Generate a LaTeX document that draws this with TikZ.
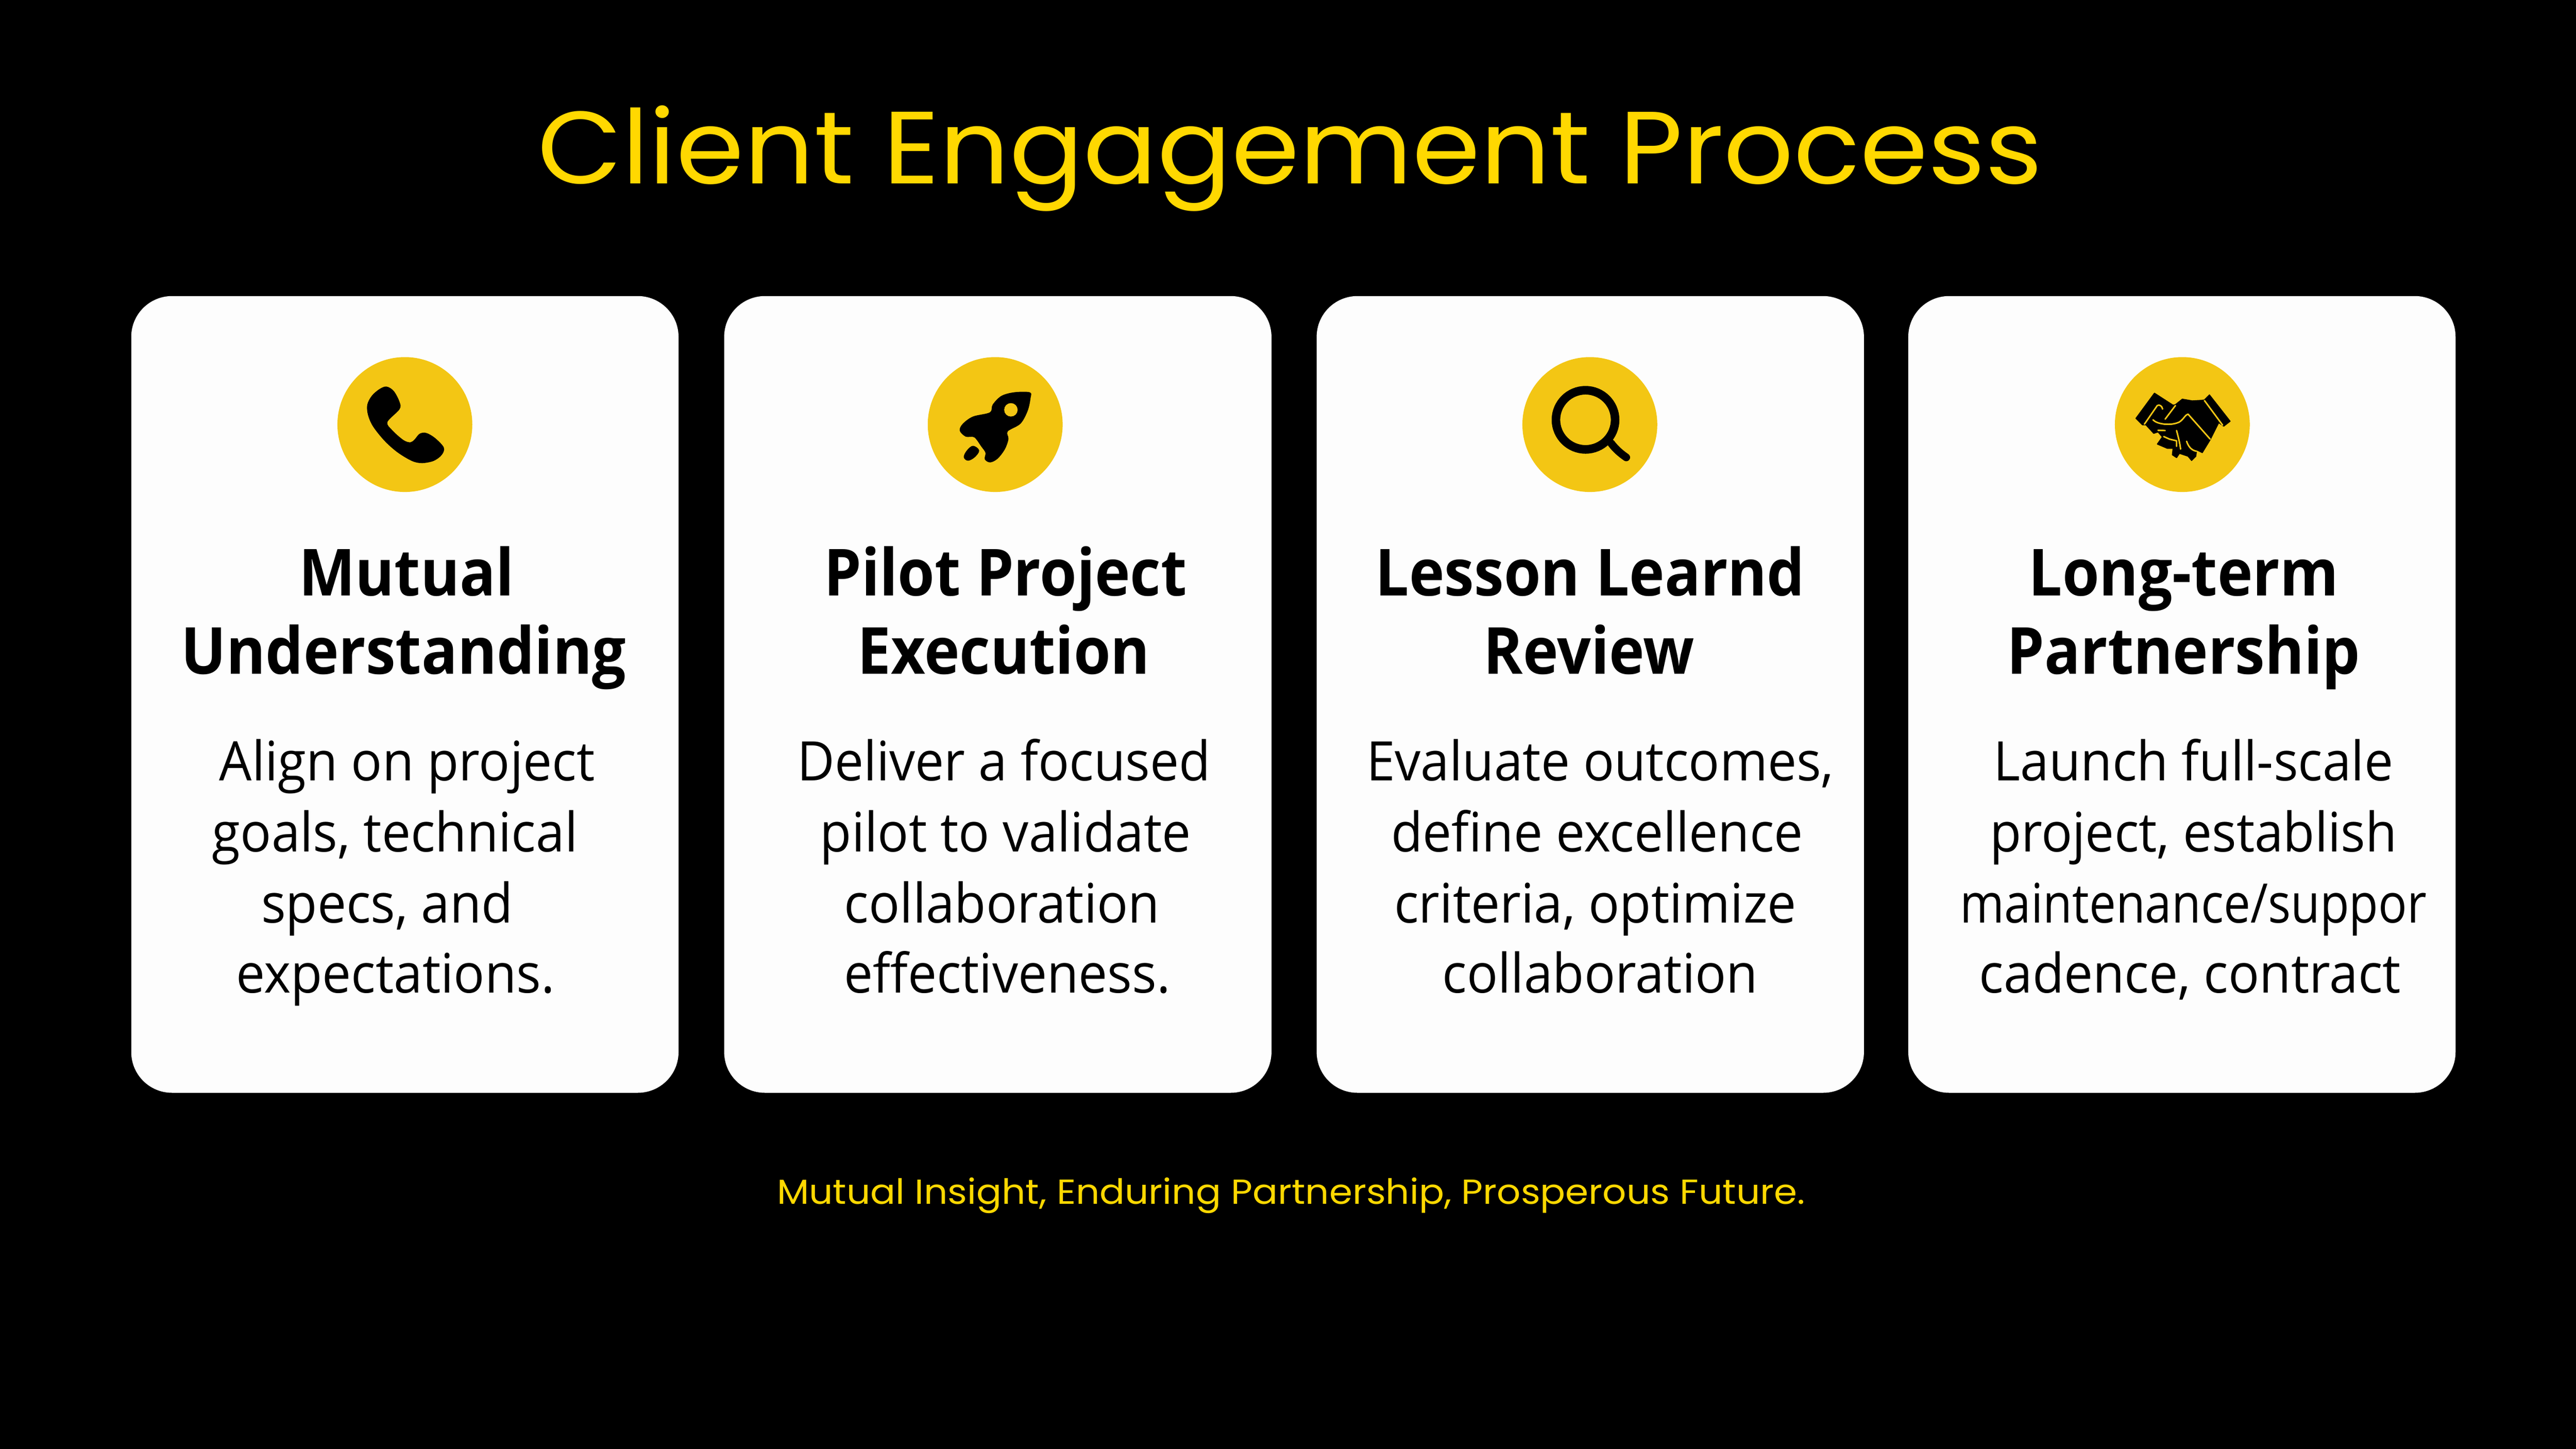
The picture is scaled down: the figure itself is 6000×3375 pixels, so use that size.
\documentclass[tikz,border=0pt]{standalone}
\usepackage{fontspec}
\setmainfont{Open Sans}
\newfontfamily\titlef[FakeStretch=1.067]{Poppins}
\newfontfamily\tagf[FakeStretch=1.075]{Poppins}
\newfontfamily\headf[FakeStretch=0.92]{Open Sans}
\newfontfamily\bodyf[FakeStretch=0.945]{Open Sans}
\newfontfamily\narrowf[FakeStretch=0.875]{Open Sans}
\definecolor{bgc}{HTML}{000000}
\definecolor{goldt}{HTML}{FFD800}
\definecolor{goldc}{HTML}{F3C614}
\definecolor{cardc}{HTML}{FDFDFD}
\tikzset{
  card/.style={draw=none,fill=cardc,rounded corners=0.95cm,minimum width=12.74cm,minimum height=18.55cm,inner sep=0,anchor=north west},
  badge/.style={draw=none,fill=goldc,circle,minimum size=3.14cm,inner sep=0},
  head/.style={anchor=base,inner sep=0,text=black,font=\headf\bfseries\fontsize{43}{50}\selectfont},
  body/.style={anchor=base,inner sep=0,text=black,font=\bodyf\fontsize{36.1}{44}\selectfont},
  narrowbody/.style={anchor=base,inner sep=0,text=black,font=\narrowf\fontsize{36.1}{44}\selectfont},
  icon/.style={fill=black,draw=black,line width=0.02cm,line join=round},
  glyphcut/.style={draw=goldc,line width=0.035cm,line cap=round,line join=round},
}
\begin{document}
\begin{tikzpicture}[x=0.01cm,y=-0.01cm]
\useasboundingbox (0,0) rectangle (6000,3375);
\fill[bgc] (0,0) rectangle (6000,3375);
\node[anchor=base,inner sep=0,text=goldt,font=\titlef\fontsize{68}{80}\selectfont] (title) at (3005,428) {Client Engagement Process};
% cards
\node[card] (c1) at (305,689) {};
\node[card] (c2) at (1686,689) {};
\node[card] (c3) at (3066,689) {};
\node[card] (c4) at (4444,689) {};
\node[badge] (b1) at (943,989) {};
\node[badge] (b2) at (2318,989) {};
\node[badge] (b3) at (3703,989) {};
\node[badge] (b4) at (5083,989) {};
% phone
\begin{scope}[shift={(700,780)},x=0.00333333cm,y=-0.00333333cm]
\fill[icon] plot[smooth cycle,tension=0.55] coordinates {(600,365)(650,395)(690,470)(690,520)(605,610)(640,670)(720,740)(770,755)(800,735)(835,695)(880,690)(940,725)(1000,790)(985,840)(930,880)(850,895)(780,880)(680,820)(590,740)(510,640)(475,560)(470,490)(500,430)(550,385)};
\end{scope}
% rocket
\begin{scope}[shift={(2080,780)},x=0.00333333cm,y=-0.00333333cm]
\fill[icon] plot[smooth cycle,tension=0.55] coordinates {(955,405)(960,440)(940,530)(890,620)(800,675)(805,730)(780,800)(730,865)(680,890)(645,870)(650,825)(620,780)(570,715)(510,710)(470,670)(490,625)(560,575)(680,545)(700,490)(760,430)(850,405)};
\fill[goldc] (825,525) circle[radius=47];
\fill[icon] plot[smooth cycle,tension=0.6] coordinates {(560,780)(600,810)(570,855)(525,878)(498,855)(520,810)};
\end{scope}
% magnifier
\begin{scope}[shift={(3460,780)},x=0.00333333cm,y=-0.00333333cm]
\draw[black,line width=0.2cm] (700,595) circle[radius=207];
\draw[black,line width=0.18cm,line cap=round] (880,760) .. controls (910,800) and (945,830) .. (985,858);
\end{scope}
% handshake
\begin{scope}[shift={(4840,780)},x=0.00333333cm,y=-0.00333333cm]
\fill[icon] (405,585) -- (535,408) -- (665,492) -- (680,490) -- (730,450) -- (800,462) -- (870,458) -- (885,455) -- (920,420) -- (1065,605) -- (1020,640) -- (985,615) -- (925,735) -- (870,825) -- (830,805) -- (825,850) -- (795,880) -- (770,850) -- (710,830) -- (690,860) -- (660,840) -- (665,795) -- (625,795) -- (555,765) -- (590,715) -- (560,680) -- (530,690) -- (475,630) -- (450,630) -- cycle;
\draw[glyphcut] (465,625) -- (555,495) .. controls (570,485) and (590,500) .. (592,520);
\draw[glyphcut] (610,590) -- (682,495);
\draw[glyphcut] (525,595) .. controls (550,625) and (650,640) .. (710,610) .. controls (740,590) and (750,560) .. (770,555) -- (925,730);
\draw[glyphcut] (885,460) -- (1012,632);
\draw[glyphcut] (760,745) .. controls (775,790) and (800,810) .. (830,815);
\draw[glyphcut] (690,670) .. controls (700,710) and (712,750) .. (718,800);
\draw[glyphcut] (600,712) -- (640,730) -- (690,742) -- (690,780);
\draw[glyphcut] (560,668) -- (610,670);
\end{scope}
% card 1
\node[head] (h11) at (947,1388) {Mutual};
\node[head] (h12) at (940,1570) {Understanding};
\node[body] (t11) at (948,1819) {Align on project};
\node[body] (t12) at (920,1984) {goals, technical};
\node[body] (t13) at (902,2150) {specs, and};
\node[body] (t14) at (921,2313) {expectations.};
% card 2
\node[head] (h21) at (2342,1388) {Pilot Project};
\node[head] (h22) at (2338,1570) {Execution};
\node[body] (t21) at (2338,1819) {Deliver a focused};
\node[body] (t22) at (2342,1984) {pilot to validate};
\node[body] (t23) at (2334,2150) {collaboration};
\node[body] (t24) at (2346,2313) {effectiveness.};
% card 3
\node[head] (h31) at (3704,1388) {Lesson Learnd};
\node[head] (h32) at (3701,1570) {Review};
\node[body] (t31) at (3727,1819) {Evaluate outcomes,};
\node[body] (t32) at (3720,1984) {define excellence};
\node[body] (t33) at (3716,2150) {criteria, optimize};
\node[body] (t34) at (3727,2313) {collaboration};
% card 4
\node[head] (h41) at (5086,1388) {Long-term};
\node[head] (h42) at (5086,1570) {Partnership};
\node[body] (t41) at (5109,1819) {Launch full-scale};
\node[body] (t42) at (5109,1984) {project, establish};
\node[narrowbody] (t43) at (5109,2150) {maintenance/suppor};
\node[body] (t44) at (5101,2313) {cadence, contract};
\node[anchor=base,inner sep=0,text=goldt,font=\tagf\fontsize{23}{28}\selectfont] (tag) at (3007,2805) {Mutual Insight, Enduring Partnership, Prosperous Future.};
\end{tikzpicture}
\end{document}
